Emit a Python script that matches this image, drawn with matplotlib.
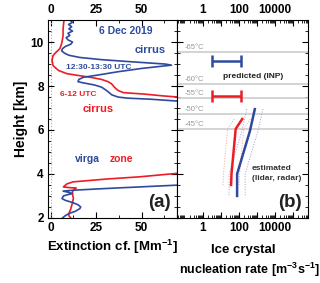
import matplotlib
matplotlib.use('Agg')
import matplotlib.pyplot as plt
import matplotlib.ticker as mticker
import numpy as np

plt.rcParams['font.family'] = ['Liberation Sans', 'DejaVu Sans']
plt.rcParams['font.weight'] = 'bold'
plt.rcParams['axes.labelweight'] = 'bold'
plt.rcParams['mathtext.fontset'] = 'custom'
plt.rcParams['mathtext.rm'] = 'Liberation Sans:bold'
plt.rcParams['mathtext.bf'] = 'Liberation Sans:bold'
plt.rcParams['mathtext.default'] = 'bf'

BLUE = '#2e4a9e'
RED = '#ee1c25'

# extinction coefficient profiles (Mm-1) vs height (km)
blue_h = [11.0, 10.9, 10.8, 10.7, 10.6, 10.5, 10.4, 10.3, 10.2, 10.1, 10.0, 9.9, 9.8, 9.7, 9.6, 9.55,
          9.5, 9.4, 9.3, 9.2, 9.1, 9.0, 8.95, 8.9, 8.8, 8.65, 8.5, 8.4, 8.3, 8.2, 8.15, 8.05, 7.95,
          7.78, 7.6, 7.5, 7.45, 7.4, 7.32, 7.15,
          3.6, 3.49, 3.41, 3.34, 3.26, 3.22, 3.16, 3.11, 3.05, 3.0, 2.88, 2.8, 2.7, 2.6, 2.5, 2.42,
          2.3, 2.2, 2.1, 2.0, 1.9]
blue_ext = [10.5, 12, 9.8, 11.5, 10, 12, 9.5, 10.5, 8.5, 9.5, 12, 11, 8, 6.5, 6, 6.8,
            7.5, 10, 16, 28, 45, 63, 66.5, 61, 50, 37, 26, 18, 15.5, 15, 17.5, 24, 28,
            31, 33.6, 37, 42, 55, 69, 100,
            100, 69.4, 49, 31, 12.3, 6.8, 10, 12, 9, 7, 6.2, 8, 12, 15, 16.5, 16,
            13.5, 10, 8, 6.5, 6]

red_h = [11.0, 10.6, 10.3, 10.0, 9.85, 9.7, 9.62, 9.5, 9.39, 9.16, 8.93, 8.8, 8.7, 8.56, 8.47,
         8.38, 8.3, 8.2, 8.1, 7.95, 7.8, 7.7, 7.63, 7.55, 7.5, 7.35,
         4.15, 4.03, 3.87, 3.77, 3.64, 3.55, 3.45, 3.41, 3.38, 3.36, 3.3, 3.2, 3.05, 2.9, 2.7,
         2.4, 2.2, 2.1, 2.0, 1.9]
red_ext = [7.3, 6.8, 6.8, 6.2, 5.7, 5, 4, 2.5, 1.3, 0.7, 1.3, 3, 4.5, 9, 16,
           23, 28, 31.5, 33.5, 35, 37, 40, 52, 62, 70, 100,
           100, 70, 49, 31, 12.3, 9, 7.5, 7, 10, 14, 13, 12, 12, 12.5, 12,
           11, 10, 10, 11, 11]

# predicted nucleation rate ranges (INP)
pred_h = [9.16, 7.55]
pred_lo = [3, 3]
pred_hi = [130, 130]
pred_col = [BLUE, RED]

# estimated nucleation rates (lidar, radar)
est_blue_h = [6.95, 5.95, 4.0, 3.0]
est_blue = [750, 400, 78, 78]
est_red_h = [6.5, 6.05, 4.0, 3.5]
est_red = [150, 65, 38, 36]
est_unc = 2.8

# temperature levels
temp_h = [9.53, 8.10, 7.46, 6.72, 6.03]
temp_lbl = ['-65°C', '-60°C', '-55°C', '-50°C', '-45°C']

fig = plt.figure(figsize=(3.2, 2.83), dpi=100)
axa = fig.add_axes([0.15, 0.23, 0.403, 0.699])
axb = fig.add_axes([0.553, 0.23, 0.4095, 0.699])

# ---- panel (a)
axa.axvline(0, color='#aaaaaa', lw=0.8, ls=':')
axa.plot(red_ext, red_h, color=RED, lw=1.2)
axa.plot(blue_ext, blue_h, color=BLUE, lw=1.2)
axa.set_xlim(-1.5, 69.5)
axa.set_ylim(2, 11)
axa.set_xticks([0, 25, 50], labels=['0', '25', '50'])
axa.xaxis.set_minor_locator(mticker.MultipleLocator(12.5))
axa.set_yticks([2, 4, 6, 8, 10], labels=['2', '4', '6', '8', '10'])
axa.yaxis.set_minor_locator(mticker.MultipleLocator(0.5))
axa.tick_params(which='both', direction='in', top=True, right=True, labeltop=True,
                labelsize=8.5, pad=3)
axa.tick_params(which='major', length=4, width=0.8)
axa.tick_params(which='minor', length=2, width=0.6)
axa.set_xlabel('Extinction cf. [Mm$^{-1}$]', fontsize=9.5, fontweight='bold', labelpad=3)
axa.set_ylabel('Height [km]', fontsize=10, fontweight='bold', labelpad=2)

tb = dict(fontweight='bold', ha='center', va='center')
axa.text(41.3, 10.49, '6 Dec 2019', color=BLUE, fontsize=7.5, **tb)
axa.text(54.5, 9.62, 'cirrus', color=BLUE, fontsize=8, **tb)
axa.text(26.5, 8.84, '12:30-13:30 UTC', color=BLUE, fontsize=6, **tb)
axa.text(15, 7.6, '6-12 UTC', color=RED, fontsize=6, **tb)
axa.text(26, 6.95, 'cirrus', color=RED, fontsize=8, **tb)
axa.text(13.3, 4.7, 'virga', color=BLUE, fontsize=7.5, fontweight='bold', ha='left', va='center')
axa.text(32.6, 4.7, 'zone', color=RED, fontsize=7.5, fontweight='bold', ha='left', va='center')
axa.text(60, 2.72, '(a)', color='#222222', fontsize=13.5, **tb)

# ---- panel (b)
for h in temp_h:
    axb.axhline(h, color='#cccccc', lw=1.2)
for h, lbl in zip(temp_h, temp_lbl):
    axb.text(0.055, h + 0.06, lbl, transform=axb.get_yaxis_transform(), color='#999999',
             fontsize=5.5, fontweight='normal', ha='left', va='bottom')

for h, lo, hi, c in zip(pred_h, pred_lo, pred_hi, pred_col):
    mid = np.sqrt(lo * hi)
    axb.errorbar([mid], [h], xerr=[[mid - lo], [hi - mid]], fmt='none', ecolor=c,
                 elinewidth=1.8, capsize=4, capthick=1.8)

eb = np.array(est_blue, dtype=float)
er = np.array(est_red, dtype=float)
axb.plot(er / est_unc, est_red_h, color='#f4a0a4', lw=0.7, ls=':')
axb.plot(er * est_unc, est_red_h, color='#f4a0a4', lw=0.7, ls=':')
axb.plot(eb / est_unc, est_blue_h, color='#8fa2d8', lw=0.7, ls=':')
axb.plot(eb * est_unc, est_blue_h, color='#8fa2d8', lw=0.7, ls=':')
axb.plot(er, est_red_h, color=RED, lw=1.8)
axb.plot(eb, est_blue_h, color=BLUE, lw=1.8)

axb.set_xscale('log')
axb.set_xlim(10 ** -1.45, 10 ** 5.83)
axb.set_ylim(2, 11)
axb.set_xticks([1, 10, 100, 1000, 10000, 100000], labels=['1', '', '100', '', '10000', ''])
axb.xaxis.set_minor_locator(mticker.LogLocator(base=10, subs=np.arange(2, 10), numticks=20))
axb.xaxis.set_minor_formatter(mticker.NullFormatter())
axb.yaxis.set_major_locator(mticker.MultipleLocator(2))
axb.yaxis.set_minor_locator(mticker.MultipleLocator(0.5))
axb.tick_params(which='both', direction='in', top=True, right=True, labeltop=True,
                labelleft=False, labelsize=8.5, pad=3)
axb.tick_params(which='major', length=4, width=0.8)
axb.tick_params(which='minor', length=2, width=0.6)

axb.text(600, 8.43, 'predicted (INP)', color='#222222', fontsize=6, **tb)
axb.text(530, 4.24, 'estimated', color='#333333', fontsize=6, fontweight='bold', ha='left', va='center')
axb.text(530, 3.78, '(lidar, radar)', color='#333333', fontsize=6, fontweight='bold', ha='left', va='center')
axb.text(10 ** 4.83, 2.72, '(b)', color='#222222', fontsize=13.5, **tb)

fig.text(243 / 320, 1 - 250 / 283, 'Ice crystal', fontsize=9.5, **tb)
fig.text(250 / 320, 1 - 270 / 283, r'nucleation rate [m$^{\mathbf{-3}}$s$^{\mathbf{-1}}$]',
         fontsize=9, **tb)

fig.canvas.draw()
for ax in (axa, axb):
    for tick in ax.xaxis.get_major_ticks() + ax.yaxis.get_major_ticks():
        tick.label1.set_fontweight('bold')
        tick.label2.set_fontweight('bold')

fig.savefig('out.png', dpi=100)
